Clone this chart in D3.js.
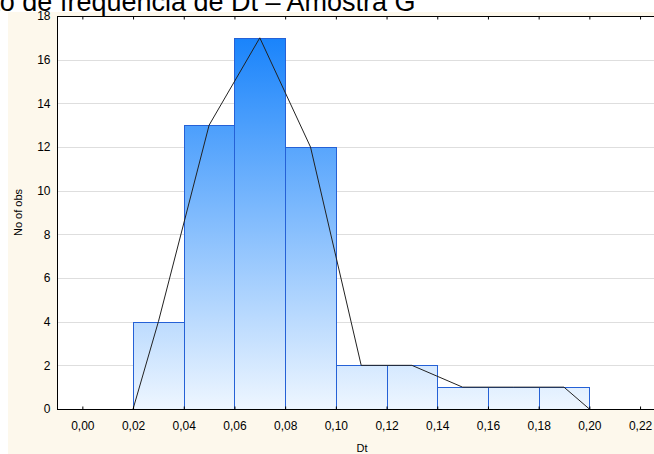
<!DOCTYPE html>
<html>
<head>
<meta charset="utf-8">
<script src="https://cdn.jsdelivr.net/npm/d3@7/dist/d3.min.js"></script>
<style>
  body { margin: 0; background: #fff; }
  svg { display: block; font-family: Arial, "Liberation Sans", sans-serif; }
</style>
</head>
<body>
<div id="chart"></div>
<script>
// histogram bins (start of each class, width 0.02) and counts
var binStarts = [0.02, 0.04, 0.06, 0.08, 0.10, 0.12, 0.14, 0.16, 0.18];
var binWidth = 0.02;
var counts = [4, 13, 17, 12, 2, 2, 1, 1, 1];

// frequency polygon points
var polyX = [0.02, 0.03, 0.05, 0.07, 0.09, 0.11, 0.13, 0.15, 0.17, 0.19, 0.20];
var polyY = [0, 4, 13, 17, 12, 2, 2, 1, 1, 1, 0];

var xTicks = [0, 0.02, 0.04, 0.06, 0.08, 0.10, 0.12, 0.14, 0.16, 0.18, 0.20, 0.22];
var yTicks = [0, 2, 4, 6, 8, 10, 12, 14, 16, 18];

var titleText = "Distribuição de frequência de Dt – Amostra G";

var width = 654, height = 454;
var plotLeft = 57, plotTop = 16, plotBottom = 409;

var svg = d3.select("#chart").append("svg")
    .attr("width", width)
    .attr("height", height);

// beige panel behind the plot
svg.append("rect")
    .attr("x", 8).attr("y", 12)
    .attr("width", width - 8).attr("height", height - 12)
    .attr("fill", "#fdf8ec");

// title (cut off on the left, like the original) - place "Dt" at x=231
var title = svg.append("text")
    .attr("x", 0).attr("y", 11)
    .attr("font-size", 27)
    .attr("fill", "#000")
    .text(titleText);
var dtPos = title.node().getStartPositionOfChar(titleText.indexOf("Dt")).x;
title.attr("x", 231 - dtPos);

var x = d3.scaleLinear().domain([-0.01, 0.23]).range([plotLeft, plotLeft + 0.24 * 2535]);
var y = d3.scaleLinear().domain([0, 18]).range([plotBottom, plotTop]);

// plot background
svg.append("rect")
    .attr("x", plotLeft).attr("y", plotTop)
    .attr("width", width - plotLeft).attr("height", plotBottom - plotTop)
    .attr("fill", "#fff");

var defs = svg.append("defs");
var grad = defs.append("linearGradient")
    .attr("id", "barGrad")
    .attr("gradientUnits", "userSpaceOnUse")
    .attr("x1", 0).attr("x2", 0)
    .attr("y1", y(18)).attr("y2", y(0));
grad.append("stop").attr("offset", "0%").attr("stop-color", "#0d7dfb");
grad.append("stop").attr("offset", "100%").attr("stop-color", "#eef6ff");

// horizontal grid lines
svg.append("g")
  .selectAll("line")
    .data(yTicks.filter(function(d) { return d > 0 && d < 18; }))
  .enter().append("line")
    .attr("x1", plotLeft).attr("x2", width)
    .attr("y1", function(d) { return Math.round(y(d)) + 0.5; })
    .attr("y2", function(d) { return Math.round(y(d)) + 0.5; })
    .attr("stroke", "#dedede");

// bars
svg.append("g")
  .selectAll("rect")
    .data(counts)
  .enter().append("rect")
    .attr("x", function(d, i) { return Math.round(x(binStarts[i])) + 0.5; })
    .attr("y", function(d) { return Math.round(y(d)) + 0.5; })
    .attr("width", function(d, i) { return Math.round(x(binStarts[i] + binWidth)) - Math.round(x(binStarts[i])); })
    .attr("height", function(d) { return plotBottom - Math.round(y(d)); })
    .attr("fill", "url(#barGrad)")
    .attr("stroke", "#2561d6")
    .attr("stroke-width", 1);

// frequency polygon
var line = d3.line()
    .x(function(d) { return x(d[0]); })
    .y(function(d) { return y(d[1]); });
svg.append("path")
    .datum(polyX.map(function(v, i) { return [v, polyY[i]]; }))
    .attr("d", line)
    .attr("fill", "none")
    .attr("stroke", "#222")
    .attr("stroke-width", 1);

var comma = function(d) { return d3.format(".2f")(d).replace(".", ","); };

// bottom axis
var xAxis = svg.append("g")
    .attr("transform", "translate(0," + (plotBottom + 0.5) + ")")
    .call(d3.axisBottom(x).tickValues(xTicks).tickSize(-3).tickPadding(12).tickFormat(comma));
xAxis.select(".domain").remove();
xAxis.selectAll("text").attr("font-size", 12).attr("font-family", "Arial, 'Liberation Sans', sans-serif").attr("fill", "#000");
xAxis.selectAll("line").attr("stroke", "#000");

// top ticks
var xTop = svg.append("g")
    .attr("transform", "translate(0," + (plotTop + 0.5) + ")")
    .call(d3.axisTop(x).tickValues(xTicks).tickSize(-3).tickFormat(""));
xTop.select(".domain").remove();
xTop.selectAll("line").attr("stroke", "#000");

// left axis
var yAxis = svg.append("g")
    .attr("transform", "translate(" + (plotLeft + 0.5) + ",0)")
    .call(d3.axisLeft(y).tickValues(yTicks).tickSize(0).tickPadding(7));
yAxis.select(".domain").remove();
yAxis.selectAll("text").attr("font-size", 12).attr("font-family", "Arial, 'Liberation Sans', sans-serif").attr("fill", "#000");

// frame lines
svg.append("line").attr("x1", plotLeft + 0.5).attr("x2", plotLeft + 0.5).attr("y1", plotTop).attr("y2", plotBottom + 1).attr("stroke", "#000");
svg.append("line").attr("x1", plotLeft).attr("x2", width).attr("y1", plotTop + 0.5).attr("y2", plotTop + 0.5).attr("stroke", "#000");
svg.append("line").attr("x1", plotLeft).attr("x2", width).attr("y1", plotBottom + 0.5).attr("y2", plotBottom + 0.5).attr("stroke", "#000");

// axis titles
svg.append("text")
    .attr("x", 362).attr("y", 452)
    .attr("text-anchor", "middle")
    .attr("font-size", 11)
    .text("Dt");
svg.append("text")
    .attr("transform", "translate(22," + ((plotTop + plotBottom) / 2) + ") rotate(-90)")
    .attr("text-anchor", "middle")
    .attr("font-size", 11)
    .text("No of obs");
</script>
</body>
</html>
